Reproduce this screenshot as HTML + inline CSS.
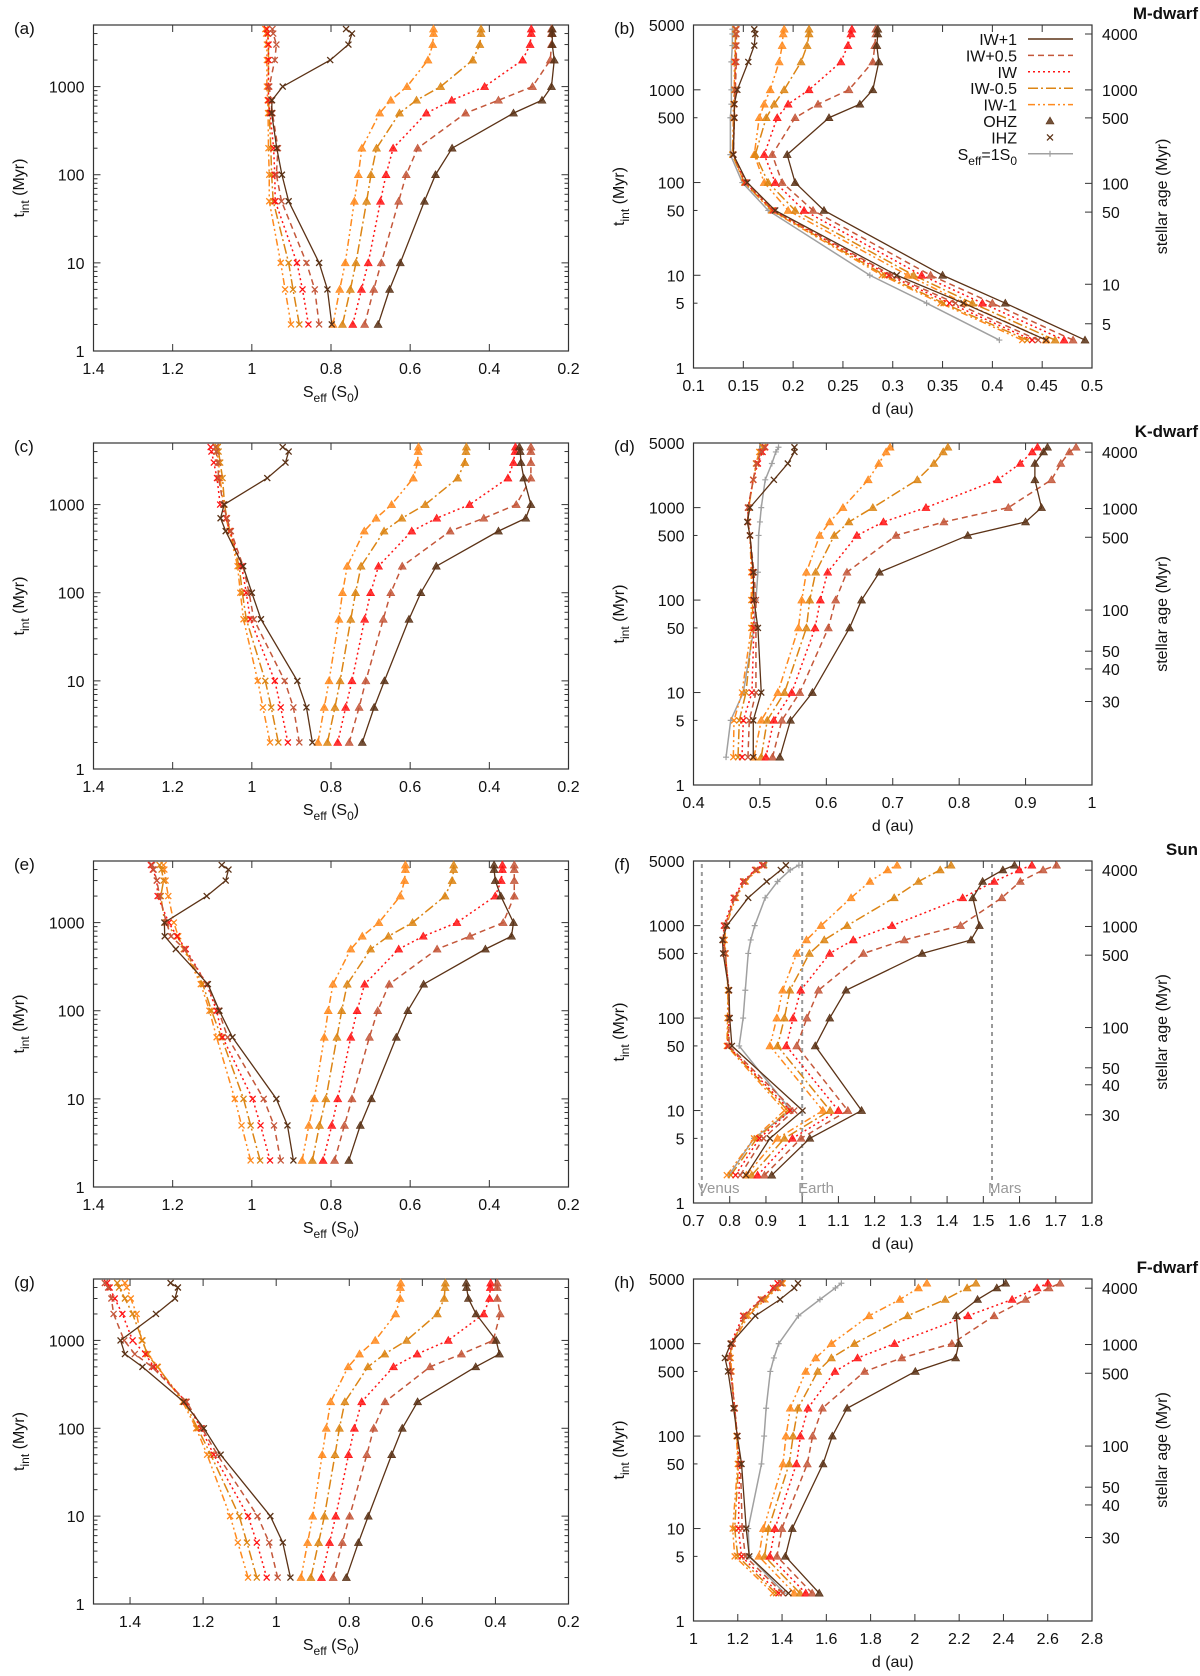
<!DOCTYPE html>
<html><head><meta charset="utf-8"><style>
html,body{margin:0;padding:0;background:#fff;}
svg{display:block;font-family:"Liberation Sans",Arial,sans-serif;}
</style></head><body>
<svg id="fig" width="1200" height="1676" viewBox="0 0 1200 1676" xmlns="http://www.w3.org/2000/svg"></svg>
<script>
const T=[2,5,10,50,100,200,500,700,1000,2000,3000,4000,4500];
const modelNames=["IW+1","IW+0.5","IW","IW-0.5","IW-1"];
// panel a
const aOHZ=[[0.681,0.652,0.625,0.564,0.536,0.494,0.339,0.267,0.243,0.236,0.241,0.241,0.241],[0.715,0.692,0.673,0.629,0.610,0.581,0.460,0.377,0.291,0.246,0.243,0.243,0.243],[0.745,0.723,0.706,0.675,0.661,0.643,0.559,0.495,0.412,0.316,0.297,0.294,0.294],[0.771,0.751,0.737,0.710,0.699,0.685,0.627,0.584,0.523,0.442,0.424,0.421,0.421],[0.795,0.778,0.764,0.741,0.731,0.722,0.677,0.649,0.608,0.555,0.543,0.541,0.541]];
const aIHZ=[[0.798,0.809,0.830,0.907,0.924,0.937,0.950,0.949,0.922,0.802,0.756,0.747,0.762],[0.830,0.841,0.862,0.925,0.938,0.934,0.948,0.952,0.956,0.942,0.938,0.946,0.948],[0.857,0.872,0.886,0.941,0.942,0.945,0.954,0.958,0.958,0.958,0.958,0.960,0.962],[0.880,0.896,0.907,0.946,0.950,0.952,0.956,0.958,0.958,0.958,0.958,0.960,0.962],[0.901,0.916,0.927,0.956,0.956,0.958,0.959,0.960,0.962,0.962,0.962,0.964,0.966]];
// panel b
const bOHZ=[[0.493,0.413,0.350,0.231,0.202,0.194,0.236,0.267,0.280,0.286,0.284,0.285,0.285],[0.481,0.400,0.338,0.220,0.189,0.179,0.202,0.225,0.256,0.280,0.282,0.283,0.283],[0.472,0.390,0.329,0.211,0.182,0.171,0.184,0.195,0.216,0.248,0.255,0.258,0.259],[0.463,0.380,0.321,0.202,0.175,0.162,0.173,0.181,0.191,0.208,0.214,0.216,0.216],[0.454,0.372,0.315,0.195,0.171,0.161,0.166,0.171,0.177,0.186,0.189,0.190,0.191]];
const bIHZ=[[0.454,0.371,0.304,0.182,0.154,0.140,0.141,0.141,0.144,0.155,0.161,0.162,0.161],[0.446,0.363,0.299,0.181,0.153,0.140,0.141,0.141,0.142,0.143,0.143,0.143,0.143],[0.440,0.357,0.296,0.180,0.152,0.140,0.141,0.141,0.142,0.142,0.143,0.143,0.143],[0.435,0.351,0.292,0.179,0.151,0.139,0.141,0.141,0.141,0.142,0.142,0.142,0.142],[0.430,0.348,0.289,0.178,0.151,0.139,0.140,0.140,0.141,0.141,0.142,0.142,0.142]];
const bS1=[0.407,0.334,0.277,0.175,0.149,0.137,0.137,0.138,0.138,0.138,0.139,0.139,0.139];
// panel c
const cOHZ=[[0.721,0.691,0.665,0.603,0.573,0.534,0.377,0.308,0.295,0.313,0.320,0.322,0.324],[0.754,0.729,0.712,0.668,0.649,0.620,0.499,0.414,0.332,0.295,0.295,0.295,0.295],[0.783,0.763,0.747,0.715,0.700,0.680,0.596,0.533,0.450,0.353,0.339,0.335,0.334],[0.809,0.790,0.777,0.750,0.738,0.724,0.666,0.621,0.562,0.480,0.462,0.459,0.458],[0.833,0.817,0.805,0.780,0.771,0.759,0.716,0.686,0.647,0.592,0.581,0.580,0.579]];
const cIHZ=[[0.847,0.862,0.885,0.977,1.000,1.022,1.066,1.079,1.070,0.961,0.915,0.907,0.922],[0.880,0.895,0.917,0.995,1.007,1.022,1.053,1.063,1.072,1.084,1.086,1.090,1.092],[0.909,0.927,0.942,1.004,1.014,1.026,1.055,1.065,1.080,1.088,1.096,1.102,1.104],[0.933,0.951,0.966,1.014,1.024,1.032,1.055,1.063,1.069,1.074,1.080,1.084,1.086],[0.954,0.972,0.985,1.021,1.029,1.036,1.057,1.065,1.072,1.080,1.084,1.088,1.090]];
// panel d
const dOHZ=[[0.530,0.546,0.579,0.635,0.653,0.680,0.813,0.900,0.924,0.914,0.914,0.927,0.933],[0.519,0.533,0.560,0.603,0.614,0.631,0.705,0.777,0.874,0.939,0.953,0.966,0.976],[0.509,0.521,0.548,0.583,0.591,0.602,0.646,0.686,0.750,0.858,0.892,0.910,0.918],[0.502,0.511,0.537,0.570,0.575,0.584,0.612,0.634,0.670,0.737,0.762,0.776,0.783],[0.491,0.502,0.527,0.558,0.563,0.570,0.590,0.605,0.625,0.663,0.679,0.690,0.696]];
const dIHZ=[[0.490,0.490,0.502,0.497,0.491,0.490,0.485,0.481,0.485,0.521,0.542,0.552,0.552],[0.482,0.484,0.494,0.494,0.494,0.491,0.485,0.482,0.482,0.490,0.495,0.502,0.507],[0.473,0.475,0.488,0.491,0.490,0.489,0.485,0.482,0.482,0.490,0.497,0.504,0.508],[0.467,0.469,0.479,0.489,0.489,0.489,0.485,0.482,0.483,0.490,0.495,0.501,0.505],[0.460,0.461,0.473,0.487,0.487,0.487,0.485,0.482,0.483,0.490,0.494,0.499,0.504]];
const dS1=[0.449,0.456,0.475,0.491,0.494,0.497,0.498,0.500,0.502,0.508,0.518,0.524,0.528];
// panel e
const eOHZ=[[0.755,0.726,0.698,0.635,0.606,0.566,0.410,0.344,0.339,0.371,0.385,0.388,0.388],[0.791,0.766,0.747,0.703,0.682,0.653,0.532,0.449,0.365,0.337,0.337,0.337,0.337],[0.820,0.798,0.783,0.750,0.734,0.715,0.629,0.567,0.482,0.385,0.370,0.367,0.367],[0.847,0.829,0.813,0.785,0.773,0.759,0.700,0.655,0.594,0.512,0.494,0.490,0.490],[0.873,0.856,0.842,0.817,0.807,0.795,0.750,0.721,0.679,0.625,0.614,0.612,0.612]];
const eIHZ=[[0.895,0.910,0.938,1.049,1.082,1.111,1.192,1.220,1.221,1.114,1.066,1.059,1.076],[0.927,0.944,0.970,1.061,1.084,1.114,1.170,1.204,1.216,1.233,1.240,1.248,1.252],[0.954,0.978,0.998,1.074,1.089,1.114,1.167,1.189,1.210,1.238,1.240,1.250,1.255],[0.979,1.003,1.021,1.077,1.102,1.124,1.170,1.189,1.220,1.230,1.223,1.228,1.233],[1.003,1.026,1.043,1.089,1.107,1.129,1.172,1.186,1.197,1.211,1.218,1.221,1.223]];
// panel f
const fOHZ=[[0.916,1.021,1.164,1.036,1.076,1.121,1.331,1.466,1.489,1.471,1.498,1.554,1.586],[0.896,0.997,1.126,0.985,1.013,1.045,1.169,1.282,1.437,1.551,1.602,1.665,1.702],[0.877,0.973,1.100,0.956,0.975,0.996,1.076,1.141,1.248,1.443,1.530,1.599,1.634],[0.861,0.951,1.077,0.932,0.951,0.966,1.020,1.061,1.124,1.254,1.321,1.381,1.411],[0.846,0.932,1.057,0.911,0.930,0.946,0.985,1.012,1.052,1.135,1.187,1.236,1.262]];
const fIHZ=[[0.845,0.911,1.001,0.806,0.800,0.798,0.782,0.780,0.792,0.851,0.902,0.941,0.955],[0.829,0.893,0.978,0.798,0.798,0.798,0.787,0.782,0.787,0.814,0.840,0.872,0.893],[0.816,0.882,0.967,0.795,0.798,0.798,0.787,0.782,0.784,0.811,0.837,0.870,0.890],[0.803,0.875,0.960,0.794,0.795,0.796,0.788,0.784,0.787,0.814,0.842,0.874,0.895],[0.792,0.867,0.951,0.792,0.794,0.795,0.789,0.786,0.790,0.817,0.844,0.876,0.895]];
const fS1=[0.798,0.867,0.969,0.826,0.837,0.843,0.851,0.858,0.869,0.898,0.932,0.967,0.991];
const planetNames=["Venus","Earth","Mars"];
const planetDist=[0.723,1.0,1.524];
// panel g
const gOHZ=[[0.808,0.775,0.748,0.684,0.655,0.613,0.454,0.389,0.398,0.453,0.474,0.479,0.480],[0.844,0.819,0.799,0.752,0.733,0.702,0.579,0.493,0.406,0.387,0.395,0.395,0.395],[0.876,0.854,0.837,0.802,0.786,0.766,0.679,0.614,0.529,0.432,0.416,0.414,0.413],[0.905,0.884,0.868,0.839,0.827,0.812,0.749,0.703,0.643,0.559,0.540,0.538,0.537],[0.932,0.914,0.900,0.874,0.863,0.851,0.803,0.772,0.729,0.673,0.661,0.660,0.659]];
const gIHZ=[[0.961,0.982,1.016,1.152,1.198,1.253,1.366,1.414,1.426,1.329,1.277,1.269,1.289],[0.996,1.019,1.051,1.161,1.203,1.245,1.340,1.387,1.416,1.445,1.451,1.460,1.469],[1.026,1.053,1.077,1.171,1.206,1.247,1.335,1.358,1.393,1.421,1.442,1.456,1.463],[1.053,1.080,1.101,1.179,1.215,1.251,1.326,1.353,1.366,1.393,1.414,1.430,1.435],[1.077,1.105,1.126,1.189,1.219,1.256,1.324,1.351,1.368,1.382,1.398,1.409,1.414]];
// panel h
const hOHZ=[[1.568,1.415,1.446,1.585,1.627,1.694,2.002,2.184,2.198,2.187,2.283,2.370,2.410],[1.536,1.377,1.399,1.514,1.538,1.582,1.773,1.941,2.167,2.358,2.500,2.606,2.656],[1.507,1.345,1.368,1.465,1.483,1.517,1.639,1.741,1.908,2.240,2.439,2.552,2.601],[1.481,1.321,1.339,1.432,1.450,1.472,1.561,1.623,1.727,1.967,2.137,2.236,2.276],[1.455,1.295,1.316,1.404,1.418,1.437,1.507,1.552,1.623,1.793,1.932,2.016,2.054]];
const hIHZ=[[1.429,1.252,1.238,1.217,1.198,1.181,1.156,1.142,1.168,1.279,1.391,1.455,1.472],[1.403,1.234,1.220,1.212,1.198,1.186,1.168,1.160,1.177,1.229,1.307,1.368,1.394],[1.385,1.217,1.203,1.208,1.198,1.186,1.168,1.160,1.168,1.224,1.304,1.359,1.380],[1.373,1.200,1.186,1.203,1.196,1.186,1.168,1.165,1.172,1.238,1.316,1.373,1.398],[1.359,1.186,1.177,1.200,1.194,1.186,1.172,1.168,1.177,1.247,1.325,1.380,1.403]];
const hS1=[1.411,1.252,1.247,1.307,1.319,1.328,1.347,1.363,1.385,1.474,1.571,1.641,1.668];
// tick arrays
const leftYTicks=[1,10,100,1000];
const rightYTicks=[1,5,10,50,100,500,1000,5000];
const ageTicksM=[5,10,50,100,500,1000,4000];
const ageTicksK=[30,40,50,100,500,1000,4000];
const seffTicks=[1.4,1.2,1,0.8,0.6,0.4,0.2];
const bTicks=[0.1,0.15,0.2,0.25,0.3,0.35,0.4,0.45,0.5];
const dTicks=[0.4,0.5,0.6,0.7,0.8,0.9,1];
const fTicks=[0.7,0.8,0.9,1,1.1,1.2,1.3,1.4,1.5,1.6,1.7,1.8];
const hTicks=[1,1.2,1.4,1.6,1.8,2,2.2,2.4,2.6,2.8];

const NS="http://www.w3.org/2000/svg";
const svg=document.getElementById('fig');
const colors=["#5b3216","#c4573a","#ff1414","#dc8514","#ff8a1e"];
const dashes=["","6,4","2,3","10,3,2,3","7,3,2,3,2,3"];
function el(tag,attrs,parent){const e=document.createElementNS(NS,tag);for(const k in attrs)e.setAttribute(k,attrs[k]);(parent||svg).appendChild(e);return e;}
function fmt(v){return String(parseFloat(v.toFixed(3)));}

const panels=[
 {id:"a",L:93.5,R:568.5,T:25,B:351,x0:1.4,x1:0.2,xt:seffTicks,ohz:aOHZ,ihz:aIHZ,s1:null,left:true},
 {id:"b",L:693.5,R:1092,T:25,B:368,x0:0.1,x1:0.5,xt:bTicks,ohz:bOHZ,ihz:bIHZ,s1:bS1,left:false,title:"M-dwarf",ages:ageTicksM,off:2,legend:true},
 {id:"c",L:93.5,R:568.5,T:443,B:769,x0:1.4,x1:0.2,xt:seffTicks,ohz:cOHZ,ihz:cIHZ,s1:null,left:true},
 {id:"d",L:693.5,R:1092,T:443,B:785,x0:0.4,x1:1.0,xt:dTicks,ohz:dOHZ,ihz:dIHZ,s1:dS1,left:false,title:"K-dwarf",ages:ageTicksK,off:22},
 {id:"e",L:93.5,R:568.5,T:861,B:1187,x0:1.4,x1:0.2,xt:seffTicks,ohz:eOHZ,ihz:eIHZ,s1:null,left:true},
 {id:"f",L:693.5,R:1092,T:861,B:1203,x0:0.7,x1:1.8,xt:fTicks,ohz:fOHZ,ihz:fIHZ,s1:fS1,left:false,title:"Sun",ages:ageTicksK,off:21,planets:true},
 {id:"g",L:93.5,R:568.5,T:1279,B:1604,x0:1.5,x1:0.2,xt:seffTicks,ohz:gOHZ,ihz:gIHZ,s1:null,left:true},
 {id:"h",L:693.5,R:1092,T:1279,B:1621,x0:1.0,x1:2.8,xt:hTicks,ohz:hOHZ,ihz:hIHZ,s1:hS1,left:false,title:"F-dwarf",ages:ageTicksK,off:22}
];
const LMAX=Math.log10(5000);

function tri(g,x,y,c){const s=4;el('polygon',{points:`${x},${y-s} ${x-s},${y+s*0.75} ${x+s},${y+s*0.75}`,fill:c,stroke:c,'stroke-width':0.6,'fill-opacity':0.85},g);}
function cross(g,x,y,c){const s=3;el('path',{d:`M${x-s},${y-s}L${x+s},${y+s}M${x-s},${y+s}L${x+s},${y-s}`,stroke:c,'stroke-width':1.3,fill:'none'},g);}
function plus(g,x,y,c){const s=3;el('path',{d:`M${x-s},${y}L${x+s},${y}M${x},${y-s}L${x},${y+s}`,stroke:c,'stroke-width':1.2,fill:'none'},g);}

panels.forEach(p=>{
 const g=el('g',{});
 
 
 const X=v=>p.L+(v-p.x0)/(p.x1-p.x0)*(p.R-p.L);
 const Y=t=>p.B-Math.log10(t)/LMAX*(p.B-p.T);
 const axis=el('g',{stroke:'#333','stroke-width':1},g);
 
 
 for(let dec=1;dec<=1000;dec*=10){for(let m=1;m<10;m++){const t=dec*m;if(t>5000)break;const y=Y(t);const len=(m===1)?7:4;
   if(p.left||m===1||[5].includes(m)){el('line',{x1:p.L,y1:y,x2:p.L+len,y2:y},axis);}
   if(p.left){el('line',{x1:p.R,y1:y,x2:p.R-len,y2:y},axis);}
 }}
 p.xt.forEach(v=>{const x=X(v);el('line',{x1:x,y1:p.B,x2:x,y2:p.B-7},axis);el('line',{x1:x,y1:p.T,x2:x,y2:p.T+7},axis);
  const tx=el('text',{x:x,y:p.B+23,'text-anchor':'middle','font-size':16,fill:'#111',stroke:'none'},g);tx.textContent=fmt(v);
  
  });
 (p.left?leftYTicks:rightYTicks).forEach(t=>{const tx=el('text',{x:p.L-9,y:Y(t)+6,'text-anchor':'end','font-size':16,fill:'#111'},g);tx.textContent=t;
  
  });
 if(!p.left){
  p.ages.forEach(a=>{const y=Y(a-p.off);el('line',{x1:p.R,y1:y,x2:p.R-7,y2:y},axis);
   const tx=el('text',{x:p.R+10,y:y+6,'font-size':16,fill:'#111'},g);tx.textContent=a;
   
   });
  const at=el('text',{transform:`translate(${p.R+75},${(p.T+p.B)/2}) rotate(-90)`,'text-anchor':'middle','font-size':16,fill:'#111'},g);at.textContent='stellar age (Myr)';
  
  
  const tt=el('text',{x:1198,y:p.T-6,'text-anchor':'end','font-size':17,'font-weight':'bold',fill:'#111'},g);tt.textContent=p.title;
  
  
 }
 el('rect',{x:p.L,y:p.T,width:p.R-p.L,height:p.B-p.T,fill:'none',stroke:'#333','stroke-width':1.2},g);
 const lt=el('text',{x:p.left?14:614,y:p.T+9,'font-size':17,fill:'#111'},g);lt.textContent='('+p.id+')';
 
 
 const yt=el('text',{transform:`translate(${p.left?24:624},${(p.T+p.B)/2}) rotate(-90)`,'text-anchor':'middle','font-size':16,fill:'#111'},g);
 yt.innerHTML='t<tspan font-size="12" dy="5">int</tspan><tspan dy="-5"> (Myr)</tspan>';
 
 
 const xt=el('text',{x:(p.L+p.R)/2,y:p.B+46,'text-anchor':'middle','font-size':16,fill:'#111'},g);
 if(p.left) xt.innerHTML='S<tspan font-size="12" dy="5">eff</tspan><tspan dy="-5"> (S</tspan><tspan font-size="12" dy="5">0</tspan><tspan dy="-5">)</tspan>';
 else xt.textContent='d (au)';
 
 
 if(p.planets){planetDist.forEach((d,i)=>{const x=X(d);const ln=el('line',{x1:x,y1:p.T+3,x2:x,y2:p.B-3,stroke:'#999','stroke-width':2,'stroke-dasharray':'4,4'},g);
   
   
   const tx=el('text',{x:x-4,y:p.B-10,'font-size':15,fill:'#999'},g);tx.textContent=planetNames[i];
   
   });}
 const drawSeries=(vals,ci,marker,name,col,dash,w)=>{
  const sg=el('g',{},g);
  
  
  const pts=vals.map((v,i)=>[X(v),Y(T[i])]);
  el('polyline',{points:pts.map(q=>q.join(',')).join(' '),fill:'none',stroke:col,'stroke-width':w,'stroke-dasharray':dash},sg);
  pts.forEach(q=>marker(sg,q[0],q[1],col));
 };
 if(p.s1) drawSeries(p.s1,0,plus,'seff1-line','#a0a0a0','',1.5);
 for(let m=4;m>=0;m--){
  drawSeries(p.ihz[m],m,cross,'ihz-'+modelNames[m].toLowerCase(),colors[m],dashes[m],m===0?1.3:1.5);
  drawSeries(p.ohz[m],m,tri,'ohz-'+modelNames[m].toLowerCase(),colors[m],dashes[m],m===0?1.3:1.5);
 }
 if(p.legend){
  const lg=el('g',{},g);
  
  
  const labels=["IW+1","IW+0.5","IW","IW-0.5","IW-1","OHZ","IHZ"];
  labels.forEach((lab,i)=>{const y=39+i*16.4;
   const tx=el('text',{x:1017,y:y+6,'text-anchor':'end','font-size':16,fill:'#111'},lg);tx.textContent=lab;
   
   
   if(i<5) el('line',{x1:1028,y1:y,x2:1073,y2:y,stroke:colors[i],'stroke-width':1.5,'stroke-dasharray':dashes[i]},lg);
   else if(i===5) tri(lg,1050,y,colors[0]); else cross(lg,1050,y,colors[0]);
  });
  const y=39+7*16.4;
  const tx=el('text',{x:1017,y:y+6,'text-anchor':'end','font-size':16,fill:'#111'},lg);
  tx.innerHTML='S<tspan font-size="12" dy="5">eff</tspan><tspan dy="-5">=1S</tspan><tspan font-size="12" dy="5">0</tspan>';
  
  
  el('line',{x1:1028,y1:y,x2:1073,y2:y,stroke:'#a0a0a0','stroke-width':1.5},lg);
  plus(lg,1050,y,'#a0a0a0');
 }
});
</script>
</body></html>
